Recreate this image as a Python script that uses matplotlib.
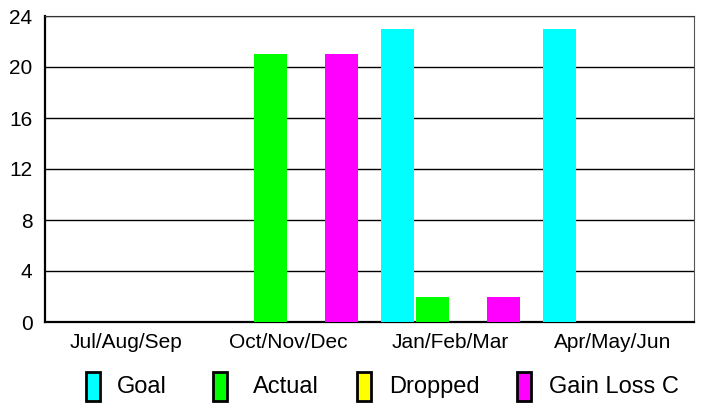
import numpy as np
import matplotlib.pyplot as plt
from matplotlib.patches import Rectangle

plt.rcParams['font.family'] = ['Liberation Sans', 'DejaVu Sans']

quarters = ["Jul/Aug/Sep", "Oct/Nov/Dec", "Jan/Feb/Mar", "Apr/May/Jun"]
goal = [0, 0, 23, 23]
actual = [0, 21, 2, 0]
dropped = [0, 0, 0, 0]
gain_loss = [0, 21, 2, 0]
series_names = ["Goal", "Actual", "Dropped", "Gain Loss C"]
colors = ["#00ffff", "#00ff00", "#ffff00", "#ff00ff"]
yticks = [0, 4, 8, 12, 16, 20, 24]

fig = plt.figure(figsize=(7.03, 4.03), dpi=100)
ax = fig.add_axes([45/703, 81/403, 649/703, 306/403])

x = np.arange(len(quarters))
step = 0.218
width = 0.203
for i, vals in enumerate([goal, actual, dropped, gain_loss]):
    ax.bar(x + (i - 1.5) * step, vals, width, color=colors[i], zorder=3)

ax.set_xlim(-0.5, 3.5)
ax.set_ylim(0, 24)
ax.set_yticks(yticks)
ax.set_xticks(x)
ax.set_xticklabels(quarters)
ax.tick_params(axis='both', length=0, labelsize=15)
ax.tick_params(axis='y', pad=9)
ax.tick_params(axis='x', pad=8)
ax.yaxis.grid(True, color='black', linewidth=1, zorder=1)
ax.set_axisbelow(True)
ax.spines['left'].set_linewidth(1.6)
ax.spines['bottom'].set_linewidth(1.6)
ax.spines['top'].set_color('#333333')
ax.spines['right'].set_color('#555555')

# legend drawn along the bottom
leg_rect_x = [86, 213, 357, 517]
leg_text_x = [117, 253, 389, 549]
for i, name in enumerate(series_names):
    fig.patches.append(Rectangle((leg_rect_x[i]/703, (403-401)/403), 14/703, 29/403,
                                 transform=fig.transFigure, facecolor=colors[i],
                                 edgecolor='black', linewidth=2))
    fig.text(leg_text_x[i]/703, (403-387)/403, name, fontsize=17, va='center', ha='left')

fig.savefig("out.png", dpi=100)
